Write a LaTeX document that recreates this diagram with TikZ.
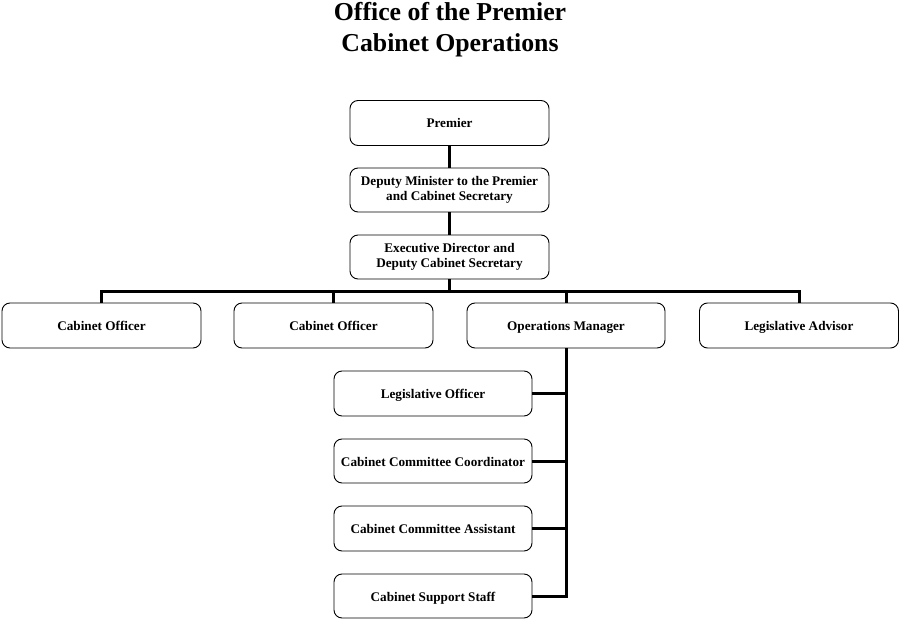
\documentclass[tikz,border=0pt]{standalone}
\usepackage{fontspec}
\setmainfont{Liberation Serif}
\begin{document}
\begin{tikzpicture}[x=1pt,y=-1pt,
  box/.style={draw, line width=0.9pt, rounded corners=8pt, fill=white,
    minimum width=199pt, minimum height=45pt, align=center,
    font=\fontsize{13.2}{15.5}\selectfont\bfseries, inner sep=2pt},
  one/.style={text height=12pt, text depth=2pt},
  conn/.style={line width=3pt, line cap=butt, line join=miter},
  ttl/.style={font=\fontsize{25.8}{31}\selectfont\bfseries, align=center}]
\useasboundingbox (0,0) rectangle (900,620);
\node[ttl] (title) at (450,30) {Office of the Premier\\Cabinet Operations};
\node[box, one] (premier) at (449.5,123) {Premier};
\node[box, minimum height=44pt] (dep) at (449.5,190) {Deputy Minister to the Premier\\and Cabinet Secretary};
\node[box, minimum height=44pt] (exec) at (449.5,257) {Executive Director and\\Deputy Cabinet Secretary};
\node[box, one] (co1) at (101.5,325.5) {Cabinet Officer};
\node[box, one] (co2) at (333.5,325.5) {Cabinet Officer};
\node[box, one, minimum width=198pt] (ops) at (566,325.5) {Operations Manager};
\node[box, one] (la) at (799,325.5) {Legislative Advisor};
\node[box, one, minimum width=198pt] (s1) at (433,393.5) {Legislative Officer};
\node[box, one, minimum width=198pt, minimum height=44pt] (s2) at (433,461) {Cabinet Committee Coordinator};
\node[box, one, minimum width=198pt] (s3) at (433,528.5) {Cabinet Committee Assistant};
\node[box, one, minimum width=198pt, minimum height=44pt] (s4) at (433,596) {Cabinet Support Staff};
\coordinate (bus) at (0,292);
\draw[conn] (premier.south) -- (dep.north);
\draw[conn] (dep.south) -- (exec.north);
\draw[conn] (exec.south) -- (exec.south |- bus);
\draw[conn] (co1.north) |- (bus -| la.north) -- (la.north);
\draw[conn] (co2.north) -- (co2.north |- bus);
\draw[conn] (ops.north) -- (ops.north |- bus);
\draw[conn] (ops.south) |- (s4.east);
\draw[conn] (s1.east) -- (s1.east -| ops.south);
\draw[conn] (s2.east) -- (s2.east -| ops.south);
\draw[conn] (s3.east) -- (s3.east -| ops.south);
\end{tikzpicture}
\end{document}
